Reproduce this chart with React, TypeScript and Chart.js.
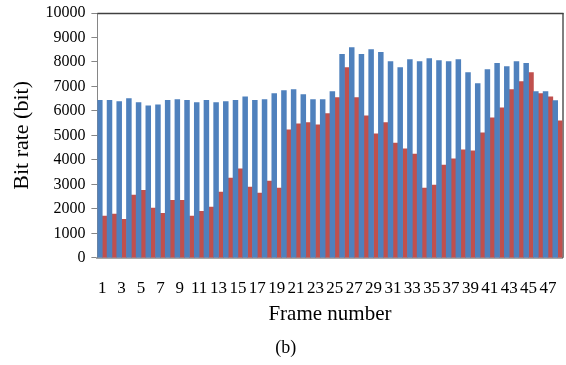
import React, { useEffect, useRef } from "react";
import { Chart, registerables } from "chart.js";

Chart.register(...registerables);

const frames = [
  "1", "2", "3", "4", "5", "6", "7", "8", "9", "10",
  "11", "12", "13", "14", "15", "16", "17", "18", "19", "20",
  "21", "22", "23", "24", "25", "26", "27", "28", "29", "30",
  "31", "32", "33", "34", "35", "36", "37", "38", "39", "40",
  "41", "42", "43", "44", "45", "46", "47", "48",
];

const seriesBlue = [
  6430, 6430, 6380, 6500, 6340, 6210, 6250, 6430, 6460, 6430,
  6340, 6430, 6340, 6380, 6430, 6580, 6430, 6460, 6710, 6830,
  6870, 6670, 6460, 6460, 6790, 8310, 8590, 8310, 8510, 8390,
  8020, 7770, 8100, 8020, 8140, 8060, 8020, 8100, 7570, 7120,
  7690, 7940, 7810, 8020, 7940, 6790, 6790, 6420,
];

const seriesRed = [
  1700, 1790, 1570, 2560, 2760, 2030, 1820, 2350, 2350, 1700,
  1900, 2070, 2680, 3260, 3630, 2890, 2640, 3130, 2850, 5230,
  5470, 5520, 5430, 5890, 6540, 7770, 6540, 5800, 5060, 5520,
  4690, 4450, 4240, 2850, 2970, 3790, 4040, 4410, 4370, 5110,
  5720, 6130, 6870, 7200, 7570, 6710, 6580, 5600,
];

const yMin = 0;
const yMax = 10000;
const yStep = 1000;

const SERIF = "'Liberation Serif', 'Times New Roman', 'DejaVu Serif', serif";

const frameBorder = {
  id: "frameBorder",
  beforeDatasetsDraw(chart: any) {
    const { ctx, chartArea } = chart;
    ctx.save();
    ctx.strokeStyle = "#000000";
    ctx.lineWidth = 1;
    ctx.beginPath();
    ctx.moveTo(chartArea.right + 0.5, chartArea.top);
    ctx.lineTo(chartArea.right + 0.5, chartArea.bottom);
    ctx.stroke();
    ctx.strokeStyle = "#404040";
    ctx.lineWidth = 1.5;
    ctx.beginPath();
    ctx.moveTo(chartArea.left, chartArea.top + 0.5);
    ctx.lineTo(chartArea.right + 1, chartArea.top + 0.5);
    ctx.stroke();
    ctx.restore();
  },
};

export default function App() {
  const ref = useRef<HTMLCanvasElement | null>(null);

  useEffect(() => {
    document.body.style.margin = "0";
    if (!ref.current) return;
    const chart = new Chart(ref.current, {
      type: "bar",
      data: {
        labels: frames,
        datasets: [
          {
            label: "A",
            data: seriesBlue,
            backgroundColor: "#4F81BD",
            categoryPercentage: 1.0,
            barPercentage: 1.0,
          },
          {
            label: "B",
            data: seriesRed,
            backgroundColor: "#C0504D",
            categoryPercentage: 1.0,
            barPercentage: 1.0,
          },
        ],
      },
      options: {
        animation: false,
        responsive: false,
        devicePixelRatio: 1,
        layout: { padding: { left: 9, right: 3.5, top: 13, bottom: 6 } },
        plugins: {
          legend: { display: false },
          tooltip: { enabled: false },
          title: {
            display: true,
            position: "bottom",
            text: "(b)",
            color: "#000",
            font: { family: SERIF, size: 18, weight: "normal" },
            padding: { top: 10, bottom: 0 },
          },
        },
        scales: {
          x: {
            afterFit: (scale: any) => {
              scale.paddingRight = 0;
            },
            grid: { display: false },
            border: { color: "#a6a6a6", width: 2 },
            ticks: {
              autoSkip: false,
              maxRotation: 0,
              minRotation: 0,
              color: "#000",
              padding: 13,
              font: { family: SERIF, size: 17 },
              callback: (_v: any, i: number) => (i % 2 === 0 ? frames[i] : ""),
            },
            title: {
              display: true,
              text: "Frame number",
              color: "#000",
              font: { family: SERIF, size: 21 },
              padding: { top: -10, bottom: 0 },
            },
          },
          y: {
            afterFit: (scale: any) => {
              scale.paddingTop = 0;
            },
            min: yMin,
            max: yMax,
            grid: {
              drawOnChartArea: false,
              drawTicks: true,
              tickLength: 6,
              color: "#868686",
            },
            border: { color: "#868686", width: 1 },
            ticks: {
              stepSize: yStep,
              color: "#000",
              padding: 6,
              font: { family: SERIF, size: 16 },
              callback: (v: any) => String(v),
            },
            title: {
              display: true,
              text: "Bit rate (bit)",
              color: "#000",
              font: { family: SERIF, size: 22 },
              padding: { top: 0, bottom: 4 },
            },
          },
        },
      },
      plugins: [frameBorder],
    });
    return () => chart.destroy();
  }, []);

  return (
    <div style={{ width: 566, height: 365, position: "relative" }}>
      <canvas ref={ref} width={566} height={365} style={{ width: 566, height: 365, display: "block" }} />
    </div>
  );
}
